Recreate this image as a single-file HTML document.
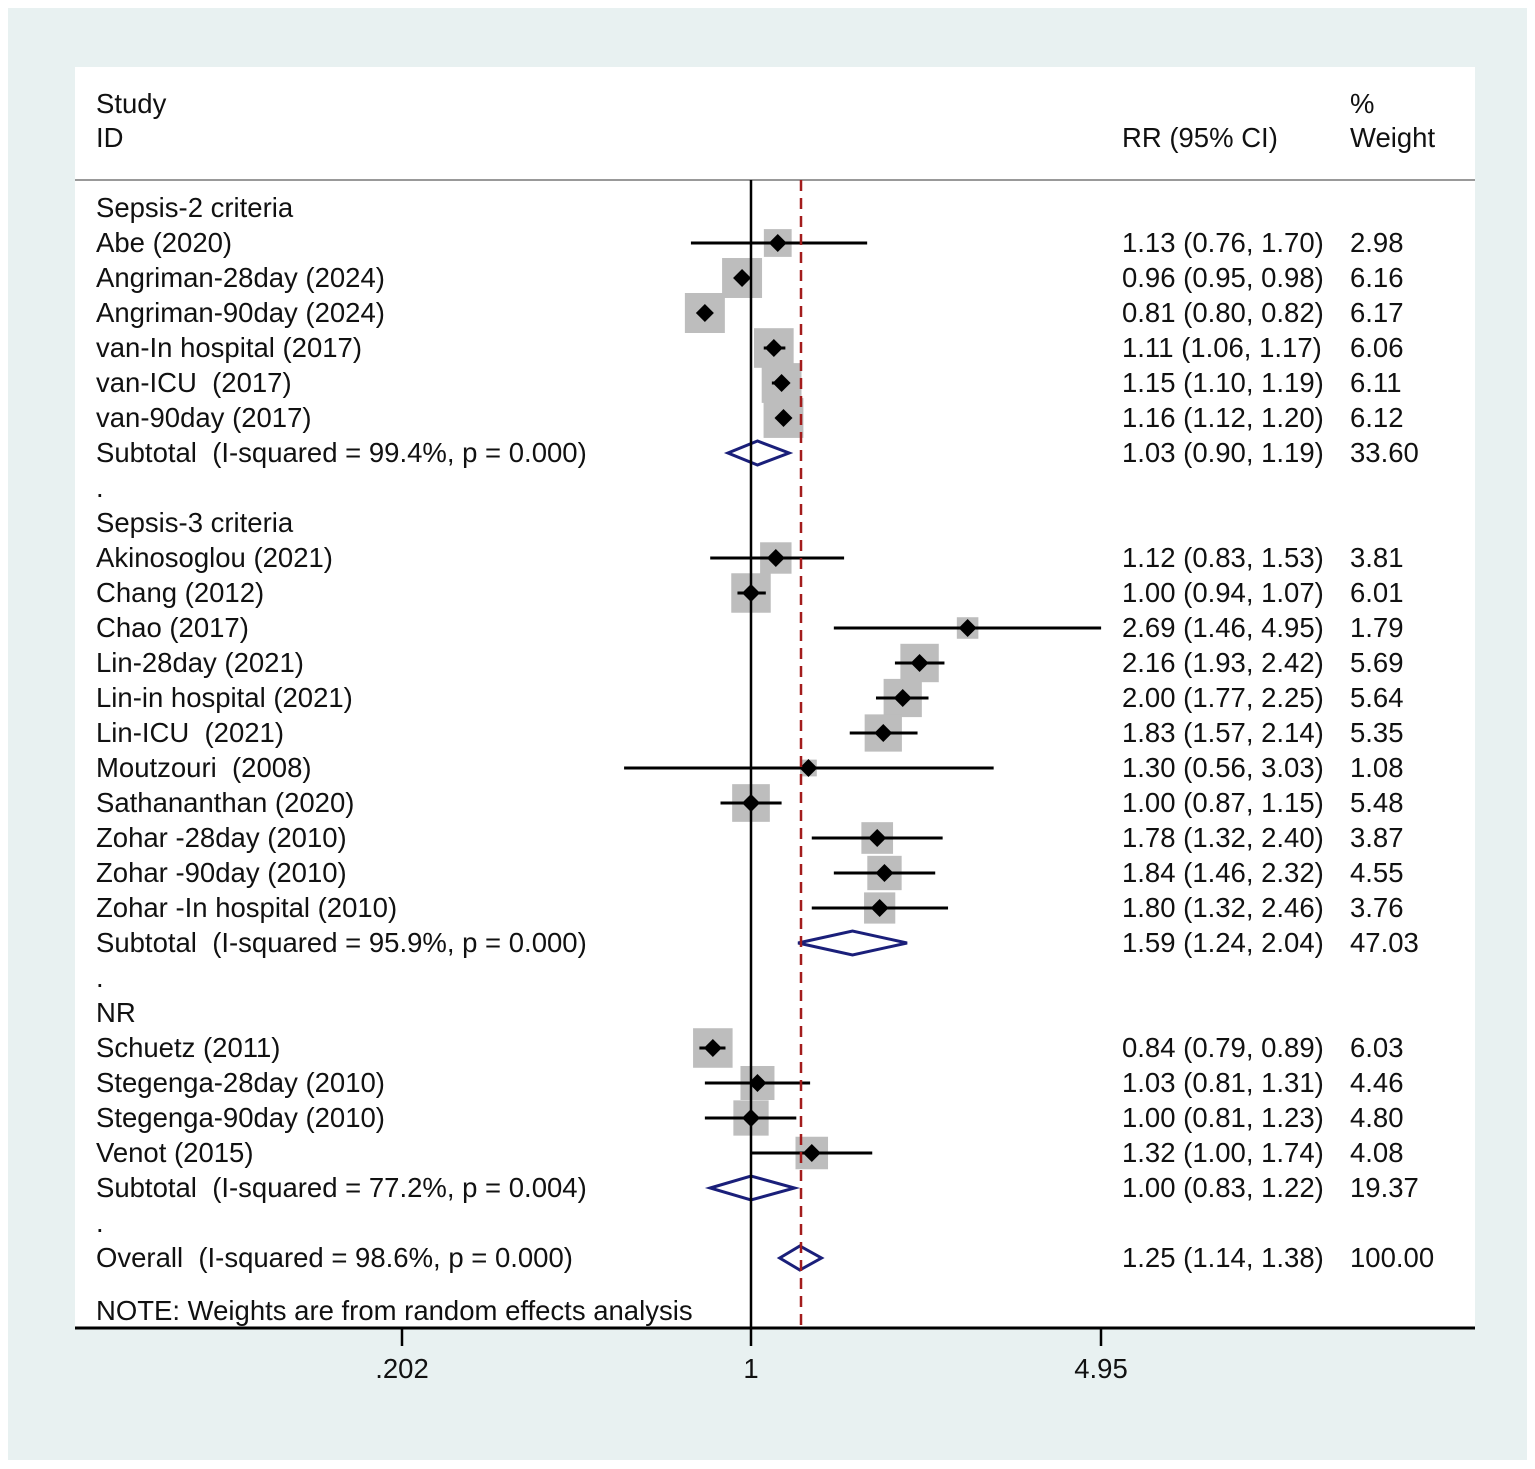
<!DOCTYPE html>
<html><head><meta charset="utf-8"><style>
html,body{margin:0;padding:0;background:#fff}
svg{display:block}
text{font-family:"Liberation Sans",Arial,sans-serif;font-size:27.5px;fill:#111;white-space:pre}
</style></head><body>
<svg id="s" width="1535" height="1469" xmlns="http://www.w3.org/2000/svg" xml:space="preserve">
<rect x="0" y="0" width="1535" height="1469" fill="#fff"/>
<rect x="8" y="8" width="1519" height="1452" fill="#e8f1f1"/>
<rect x="75" y="67" width="1400" height="1261" fill="#fff"/>
<text x="96" y="113">Study</text>
<text x="96" y="147">ID</text>
<text x="1122" y="147">RR (95% CI)</text>
<text x="1350" y="113">%</text>
<text x="1350" y="147">Weight</text>
<line x1="75" y1="180" x2="1475" y2="180" stroke="#999" stroke-width="2"/>
<g id="g"></g>
<line x1="751" y1="180" x2="751" y2="1328" stroke="#000" stroke-width="2.5"/>
<line x1="801" y1="180" x2="801" y2="1328" stroke="#a31c1c" stroke-width="2.5" stroke-dasharray="11,7"/>
<line x1="75" y1="1328" x2="1475" y2="1328" stroke="#000" stroke-width="3"/>
<line x1="402" y1="1328" x2="402" y2="1346" stroke="#000" stroke-width="2.5"/>
<line x1="751" y1="1328" x2="751" y2="1346" stroke="#000" stroke-width="2.5"/>
<line x1="1101" y1="1328" x2="1101" y2="1346" stroke="#000" stroke-width="2.5"/>
<text x="402" y="1378" text-anchor="middle">.202</text>
<text x="751" y="1378" text-anchor="middle">1</text>
<text x="1101" y="1378" text-anchor="middle">4.95</text>
<text x="96" y="1320">NOTE: Weights are from random effects analysis</text>
</svg>
<script>
var rows=[
["Sepsis-2 criteria"],
["Abe (2020)",1.13,0.76,1.70,2.98],
["Angriman-28day (2024)",0.96,0.95,0.98,6.16],
["Angriman-90day (2024)",0.81,0.80,0.82,6.17],
["van-In hospital (2017)",1.11,1.06,1.17,6.06],
["van-ICU  (2017)",1.15,1.10,1.19,6.11],
["van-90day (2017)",1.16,1.12,1.20,6.12],
["Subtotal  (I-squared = 99.4%, p = 0.000)",1.03,0.90,1.19,33.60,"s"],
["."],
["Sepsis-3 criteria"],
["Akinosoglou (2021)",1.12,0.83,1.53,3.81],
["Chang (2012)",1.00,0.94,1.07,6.01],
["Chao (2017)",2.69,1.46,4.95,1.79],
["Lin-28day (2021)",2.16,1.93,2.42,5.69],
["Lin-in hospital (2021)",2.00,1.77,2.25,5.64],
["Lin-ICU  (2021)",1.83,1.57,2.14,5.35],
["Moutzouri  (2008)",1.30,0.56,3.03,1.08],
["Sathananthan (2020)",1.00,0.87,1.15,5.48],
["Zohar -28day (2010)",1.78,1.32,2.40,3.87],
["Zohar -90day (2010)",1.84,1.46,2.32,4.55],
["Zohar -In hospital (2010)",1.80,1.32,2.46,3.76],
["Subtotal  (I-squared = 95.9%, p = 0.000)",1.59,1.24,2.04,47.03,"s"],
["."],
["NR"],
["Schuetz (2011)",0.84,0.79,0.89,6.03],
["Stegenga-28day (2010)",1.03,0.81,1.31,4.46],
["Stegenga-90day (2010)",1.00,0.81,1.23,4.80],
["Venot (2015)",1.32,1.00,1.74,4.08],
["Subtotal  (I-squared = 77.2%, p = 0.004)",1.00,0.83,1.22,19.37,"s"],
["."],
["Overall  (I-squared = 98.6%, p = 0.000)",1.25,1.14,1.38,100.00,"o"]
];
function X(v){return 751+218.9*Math.log(v);}
var h="";
rows.forEach(function(r,i){
 var y=208+35*i;
 h+='<text x="96" y="'+(y+9)+'">'+r[0]+'</text>';
 if(r.length<2)return;
 h+='<text x="1122" y="'+(y+9)+'">'+r[1].toFixed(2)+' ('+r[2].toFixed(2)+', '+r[3].toFixed(2)+')</text>';
 h+='<text x="1350" y="'+(y+9)+'">'+r[4].toFixed(2)+'</text>';
 var c=X(r[1]),l=X(r[2]),u=X(r[3]);
 if(r[5]){
  var hh=12;
  h+='<polygon points="'+l+','+y+' '+c+','+(y-hh)+' '+u+','+y+' '+c+','+(y+hh)+'" fill="none" stroke="#1a1f7a" stroke-width="3"/>';
 } else {
  var s=16.1*Math.sqrt(r[4]);
  h+='<rect x="'+(c-s/2)+'" y="'+(y-s/2)+'" width="'+s+'" height="'+s+'" fill="#bdbdbd"/>';
  h+='<line x1="'+l+'" y1="'+y+'" x2="'+u+'" y2="'+y+'" stroke="#000" stroke-width="3"/>';
  h+='<polygon points="'+(c-9)+','+y+' '+c+','+(y-9)+' '+(c+9)+','+y+' '+c+','+(y+9)+'" fill="#000"/>';
 }
});
document.getElementById("g").innerHTML=h;
</script>
</body></html>
